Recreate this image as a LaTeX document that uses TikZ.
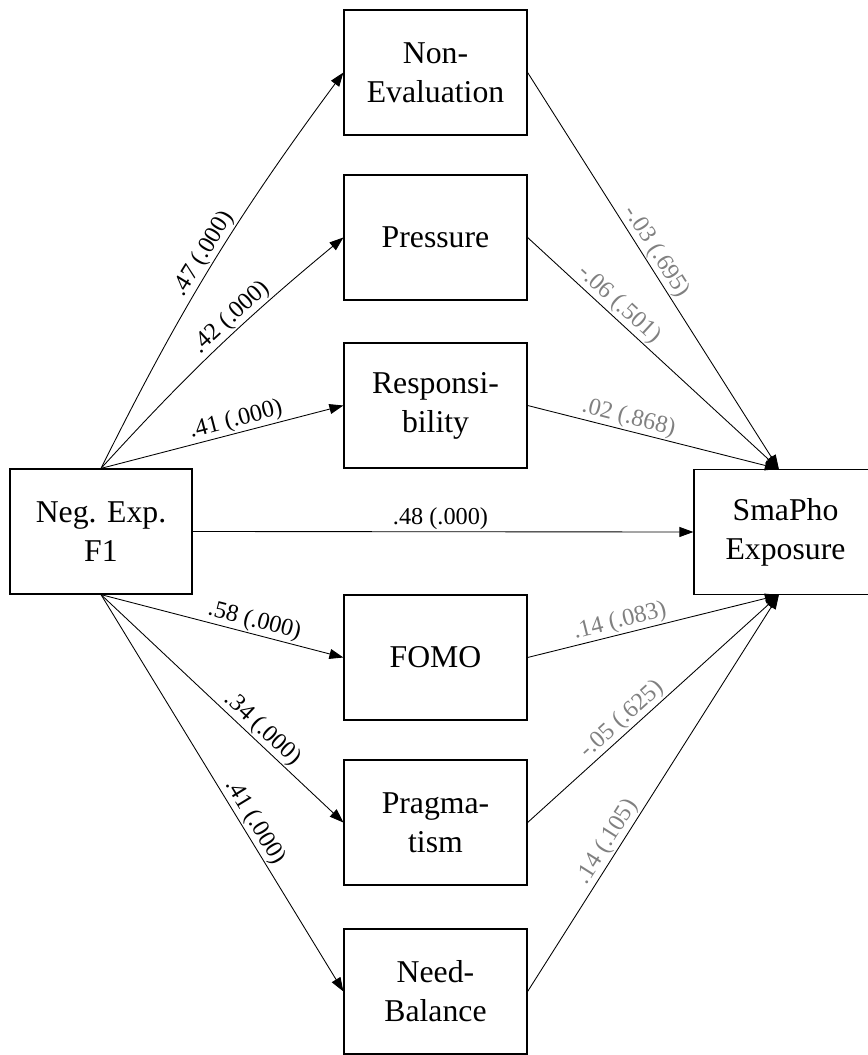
\documentclass[tikz,border=0pt]{standalone}
\usepackage{fontspec}
\setmainfont{Liberation Serif}
\usetikzlibrary{arrows.meta}
\begin{document}
\begin{tikzpicture}[x=0.75pt,y=-0.75pt,
  box/.style={draw, line width=0.9pt, minimum width=137.25pt, minimum height=93.75pt,
    align=center, inner sep=0pt, font=\fontsize{23.8}{29.25}\selectfont},
  arr/.style={line width=0.65pt, -{Triangle[length=10.5pt,width=7.5pt]}},
  coef/.style={font=\fontsize{18.2}{21}\selectfont, above, sloped, inner sep=1pt},
  ns/.style={coef, text=black!50}]
\useasboundingbox (0,0) rectangle (867,1055);

% predictor, outcome and mediators
\node[box, minimum width=136.5pt] (neg) at (101,531.5) {Neg. Exp.\\F1};
\node[box] (sma) at (785.5,532) {SmaPho\\Exposure};
\node[box] (nonev) at (435.5,72.5)  {Non-\\Evaluation};
\node[box] (press) at (435.5,237.5) {Pressure};
\node[box] (resp)  at (435.5,405.5) {Responsi-\\bility};
\node[box] (fomo)  at (435.5,657.5) {FOMO};
\node[box] (prag)  at (435.5,822.5) {Pragma-\\tism};
\node[box] (need)  at (435.5,991.5) {Need-\\Balance};

\coordinate (smatop) at ([xshift=-5pt]sma.north);
\coordinate (smabot) at ([xshift=-5pt]sma.south);

% a-paths
\draw[arr] (neg.north) to[bend left=5] node[coef, pos=.51] {.47 (.000)} (nonev.west);
\draw[arr] (neg.north) to[bend left=4] node[coef, pos=.60] {.42 (.000)} (press.west);
\draw[arr] (neg.north) -- node[coef, pos=.57] {.41 (.000)} (resp.west);
\draw[arr] (neg.south) -- node[coef, pos=.62] {.58 (.000)} (fomo.west);
\draw[arr] (neg.south) -- node[coef, pos=.63] {.34 (.000)} (prag.west);
\draw[arr] (neg.south) -- node[coef, pos=.59] {.41 (.000)} (need.west);

% direct effect
\draw[arr] (neg.east) -- node[coef, pos=.495] {.48 (.000)} (sma.west);

% b-paths
\draw[arr] (nonev.east) -- node[ns, pos=.47] {-.03 (.695)} (smatop);
\draw[arr] (press.east) -- node[ns, pos=.33] {-.06 (.501)} (smatop);
\draw[arr] (resp.east)  -- node[ns, pos=.39] {.02 (.868)} (smatop);
\draw[arr] (fomo.east)  -- node[ns, pos=.38] {.14 (.083)} (smabot);
\draw[arr] (prag.east)  -- node[ns, pos=.41] {-.05 (.625)} (smabot);
\draw[arr] (need.east)  -- node[ns, pos=.36] {.14 (.105)} (smabot);
\end{tikzpicture}
\end{document}
